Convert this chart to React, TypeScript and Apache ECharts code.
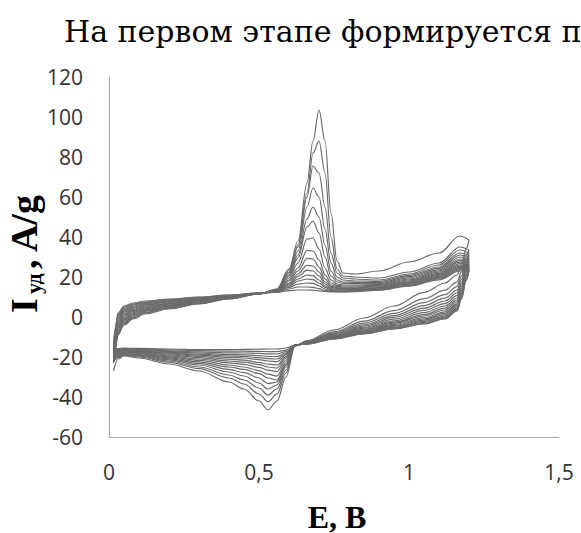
import React, { useEffect, useRef } from "react";
import * as echarts from "echarts";

// Potential grids (V) for anodic (forward) and cathodic (reverse) sweeps
const E_FWD = [0.015, 0.02, 0.03, 0.05, 0.08, 0.12, 0.2, 0.3, 0.4, 0.5, 0.56, 0.6, 0.63, 0.66, 0.68, 0.7, 0.72, 0.74, 0.76, 0.78, 0.82, 0.9, 1.0, 1.1, 1.17, 1.2];
const E_REV = [1.2, 1.19, 1.175, 1.16, 1.12, 1.05, 0.95, 0.85, 0.75, 0.66, 0.62, 0.59, 0.56, 0.53, 0.5, 0.45, 0.4, 0.3, 0.2, 0.1, 0.05, 0.03, 0.015];

// Specific current (A/g), forward sweep, one row per cycle
const I_FWD = [
  [-23, -17, -9, -4, -1, 1.5, 4, 6.5, 9, 11.5, 14, 24, 38, 67, 88, 103.5, 88, 52, 28, 22, 21.5, 23, 27.5, 32, 40.5, 38.5],
  [-22.5, -16.2, -8.2, -3.3, -0.4, 2, 4.4, 6.7, 9.1, 11.5, 14, 23.5, 36, 62, 82, 88, 72, 40, 24, 20.5, 20, 19.5, 22.5, 27, 35, 33.5],
  [-22.1, -15.6, -7.6, -2.8, 0, 2.3, 4.7, 7, 9.3, 11.6, 13.8, 22.5, 35, 60, 75.5, 72, 55, 32, 22, 19.5, 19, 18.5, 21.5, 26, 33.5, 32],
  [-21.6, -14.8, -6.8, -2.1, 0.6, 2.8, 5, 7.2, 9.4, 11.6, 13.6, 22, 33, 55, 64.5, 60, 44, 27, 20, 18.5, 18, 17.8, 20.8, 25, 32, 31],
  [-21.1, -14, -6, -1.4, 1.2, 3.3, 5.4, 7.4, 9.5, 11.6, 13.4, 21, 31, 49, 55, 50, 36, 23, 18.5, 17.5, 17.3, 17.2, 20.2, 24.3, 31, 30],
  [-20.7, -13.4, -5.4, -0.9, 1.6, 3.6, 5.7, 7.7, 9.7, 11.7, 13.3, 20.5, 29.5, 45, 48, 42, 30, 20.5, 17.5, 16.8, 16.7, 16.7, 19.6, 23.6, 30, 29],
  [-20.2, -12.6, -4.6, -0.2, 2.2, 4.1, 6, 7.9, 9.8, 11.7, 13.2, 19.5, 27, 39, 39.5, 34, 24.5, 18.5, 16.5, 16, 16, 16.2, 19, 23, 29, 28.2],
  [-19.7, -11.8, -3.8, 0.5, 2.8, 4.6, 6.4, 8.1, 9.9, 11.7, 13.1, 18.5, 24.5, 33.3, 33, 28.5, 21, 17, 15.8, 15.5, 15.5, 15.8, 18.5, 22.4, 28.2, 27.5],
  [-19.3, -11.2, -3.2, 1, 3.2, 4.9, 6.7, 8.4, 10.1, 11.8, 13, 18, 23, 29.3, 29, 25, 19, 16, 15.3, 15, 15, 15.4, 18, 21.8, 27.4, 26.8],
  [-18.8, -10.4, -2.4, 1.7, 3.8, 5.4, 7, 8.6, 10.2, 11.8, 12.9, 17, 21.5, 25.8, 25.5, 22.5, 17.5, 15.3, 14.8, 14.6, 14.6, 15, 17.6, 21.3, 26.7, 26.2],
  [-18.3, -9.6, -1.6, 2.4, 4.4, 5.9, 7.4, 8.8, 10.3, 11.8, 12.8, 16.5, 20.3, 23.4, 23, 20.5, 16.5, 14.8, 14.3, 14.2, 14.2, 14.7, 17.2, 20.8, 26, 25.6],
  [-17.9, -9, -1, 2.9, 4.8, 6.2, 7.7, 9.1, 10.5, 11.9, 12.7, 16, 19, 21, 20.7, 18.5, 15.5, 14.2, 13.8, 13.8, 13.8, 14.4, 16.8, 20.3, 25.4, 25],
  [-17.4, -8.2, -0.2, 3.6, 5.4, 6.7, 8, 9.3, 10.6, 11.9, 12.6, 15.3, 18, 19, 18.7, 17, 14.8, 13.7, 13.4, 13.4, 13.5, 14.1, 16.4, 19.8, 24.8, 24.5],
  [-16.9, -7.4, 0.6, 4.3, 6, 7.2, 8.4, 9.5, 10.7, 11.9, 12.5, 14.7, 16.5, 17, 16.8, 15.6, 14, 13.3, 13, 13, 13.2, 13.8, 16, 19.4, 24.2, 24],
  [-16.5, -6.8, 1.2, 4.8, 6.4, 7.5, 8.7, 9.8, 10.9, 12, 12.4, 14, 15, 15, 14.8, 14.2, 13.3, 12.8, 12.7, 12.7, 12.9, 13.6, 15.7, 19, 23.6, 23.5],
  [-16, -6, 2, 5.5, 7, 8, 9, 10, 11, 12, 12.3, 13.2, 13.5, 13.5, 13.4, 13.1, 12.8, 12.5, 12.5, 12.5, 12.7, 13.4, 15.4, 18.6, 23, 23],
];

// Specific current (A/g), reverse sweep, one row per cycle
const I_REV = [
  [38.5, 34, 26, 21, 17, 12.3, 5.5, -0.5, -6.5, -11.8, -14.5, -30, -42, -46.5, -42, -36, -32.5, -27, -23.5, -20.5, -19.5, -21, -27],
  [33.5, 30.8, 22.6, 17.4, 13.4, 9.1, 3.2, -2.1, -7.4, -12.1, -14.5, -28, -38.5, -42.3, -38.5, -33.5, -30.5, -25.8, -22.7, -20, -19.2, -20.3, -22.5],
  [32, 28.9, 20.6, 15.2, 11.2, 7.2, 1.8, -3.1, -7.9, -12.3, -14.4, -26.5, -36, -39, -35.5, -31.5, -29, -25, -22, -19.6, -18.9, -19.8, -22],
  [31, 27.3, 18.9, 13.4, 9.4, 5.7, 0.7, -3.9, -8.4, -12.5, -14.4, -25, -34, -36, -33, -29.5, -27.5, -24, -21.4, -19.2, -18.6, -19.4, -21.5],
  [30, 26, 17.5, 12, 8, 4.4, -0.2, -4.5, -8.8, -12.7, -14.3, -24, -32.5, -33.3, -30.5, -27.8, -26.2, -23.2, -20.9, -18.8, -18.3, -19, -21],
  [29, 24.9, 16.3, 10.7, 6.7, 3.3, -1.1, -5.1, -9.1, -12.8, -14.3, -23.5, -31.5, -30.5, -28.3, -26.2, -25, -22.4, -20.4, -18.5, -18, -18.6, -20.5],
  [28.2, 23.8, 15.1, 9.5, 5.5, 2.2, -1.9, -5.6, -9.4, -12.9, -14.3, -22.5, -29.5, -28.6, -26.8, -25, -24, -21.7, -19.9, -18.2, -17.7, -18.3, -20],
  [27.5, 22.8, 14.1, 8.4, 4.4, 1.2, -2.6, -6.1, -9.7, -13, -14.2, -21.5, -27.3, -26.6, -25.2, -23.7, -22.9, -21, -19.4, -17.9, -17.4, -17.9, -19.5],
  [26.8, 22, 13.3, 7.5, 3.5, 0.5, -3.1, -6.5, -9.9, -13.1, -14.2, -20.5, -25.5, -25, -23.8, -22.6, -22, -20.3, -18.9, -17.6, -17.1, -17.6, -19],
  [26.2, 21.2, 12.4, 6.6, 2.6, -0.3, -3.7, -6.9, -10.1, -13.2, -14.2, -19.8, -24, -23.6, -22.7, -21.6, -21.1, -19.7, -18.5, -17.3, -16.9, -17.3, -18.5],
  [25.6, 20.6, 11.7, 5.9, 1.9, -1, -4.2, -7.2, -10.3, -13.2, -14.1, -19, -22.3, -22, -21.3, -20.5, -20.2, -19.1, -18.1, -17, -16.7, -17, -18],
  [25, 19.9, 11, 5.2, 1.2, -1.6, -4.6, -7.5, -10.5, -13.3, -14.1, -18.5, -21, -20.8, -20.3, -19.7, -19.5, -18.6, -17.7, -16.8, -16.5, -16.8, -17.6],
  [24.5, 19.3, 10.4, 4.4, 0.4, -2.2, -5.1, -7.9, -10.6, -13.4, -14.1, -18, -19.8, -19.7, -19.3, -18.9, -18.8, -18, -17.3, -16.5, -16.3, -16.6, -17.2],
  [24, 18.8, 9.9, 3.9, -0.1, -2.7, -5.4, -8.1, -10.8, -13.4, -14, -17.3, -18.5, -18.4, -18.2, -18, -17.9, -17.4, -16.9, -16.2, -16, -16.3, -16.9],
  [23.5, 18.3, 9.3, 3.4, -0.6, -3.2, -5.8, -8.3, -10.9, -13.5, -14, -16.6, -17.3, -17.3, -17.2, -17.1, -17.1, -16.8, -16.4, -16, -15.8, -16.1, -16.7],
  [23, 18, 9, 3, -1, -3.5, -6, -8.5, -11, -13.5, -14, -15.5, -16, -16, -16.1, -16.2, -16.3, -16.3, -16, -15.7, -15.6, -15.8, -16.5],
];

const X_TICKS = ["0", "0,5", "1", "1,5"];
const TITLE = "На первом этапе формируется п";

const LINE_COLOR = "#6b6b6b";
const TICK_COLOR = "#333333";
const AXIS_COLOR = "#a6a6a6";
const SERIF = "Liberation Serif";

export default function App() {
  const ref = useRef<HTMLDivElement>(null);

  useEffect(() => {
    document.body.style.margin = "0";
    if (!ref.current) return;
    const chart = echarts.init(ref.current, undefined, { renderer: "svg" });

    const series: any[] = [];
    I_FWD.forEach((row, k) => {
      series.push({
        type: "line",
        name: "fwd" + k,
        data: E_FWD.map((e, i) => [e, row[i]]),
        showSymbol: false,
        smooth: 0.35,
        smoothMonotone: "x",
        lineStyle: { color: LINE_COLOR, width: 1.2 },
        z: 2,
      });
    });
    I_REV.forEach((row, k) => {
      const pts = E_REV.map((e, i) => [e, row[i]]).reverse();
      series.push({
        type: "line",
        name: "rev" + k,
        data: pts,
        showSymbol: false,
        smooth: 0.35,
        smoothMonotone: "x",
        lineStyle: { color: LINE_COLOR, width: 1.2 },
        z: 2,
      });
    });

    chart.setOption({
      animation: false,
      backgroundColor: "#ffffff",
      grid: { left: 109, top: 77, width: 450, height: 360, containLabel: false },
      xAxis: {
        type: "value",
        min: 0,
        max: 1.5,
        interval: 0.5,
        axisLine: { show: true, onZero: false, lineStyle: { color: AXIS_COLOR, width: 1 } },
        axisTick: { show: false },
        splitLine: { show: false },
        axisLabel: {
          margin: 24,
          color: TICK_COLOR,
          fontSize: 21,
          fontFamily: "Open Sans",
          formatter: (v: number) => X_TICKS[Math.round(v / 0.5)] ?? String(v),
        },
      },
      yAxis: {
        type: "value",
        min: -60,
        max: 120,
        interval: 20,
        axisLine: { show: true, lineStyle: { color: AXIS_COLOR, width: 1 } },
        axisTick: { show: false },
        splitLine: { show: false },
        axisLabel: {
          margin: 26,
          color: TICK_COLOR,
          fontSize: 21,
          fontFamily: "Open Sans",
        },
      },
      graphic: [
        {
          type: "text",
          x: 64,
          y: 31,
          style: {
            text: TITLE,
            fontSize: 30,
            fontFamily: "DejaVu Serif",
            fill: "#000",
            align: "left",
            verticalAlign: "middle",
          },
        },
        {
          type: "text",
          x: 337,
          y: 516.5,
          style: {
            text: "E, B",
            fontSize: 32,
            fontWeight: "bold",
            fontFamily: SERIF,
            fill: "#000",
            align: "center",
            verticalAlign: "middle",
          },
        },
        {
          type: "group",
          x: 37,
          y: 313,
          rotation: Math.PI / 2,
          children: [
            {
              type: "text",
              x: 0,
              y: -12.8,
              style: { text: "I", fontSize: 38, fontWeight: "bold", fontFamily: SERIF, fill: "#000", align: "left", verticalAlign: "middle" },
            },
            {
              type: "text",
              x: 19,
              y: -4,
              style: { text: "уд", fontSize: 22, fontWeight: "bold", fontFamily: SERIF, fill: "#000", align: "left", verticalAlign: "middle" },
            },
            {
              type: "text",
              x: 44,
              y: -12.8,
              style: { text: ", A/g", fontSize: 38, fontWeight: "bold", fontFamily: SERIF, fill: "#000", align: "left", verticalAlign: "middle" },
            },
          ],
        },
      ],
      series,
    });

    return () => chart.dispose();
  }, []);

  return <div ref={ref} style={{ width: 581, height: 533 }} />;
}
